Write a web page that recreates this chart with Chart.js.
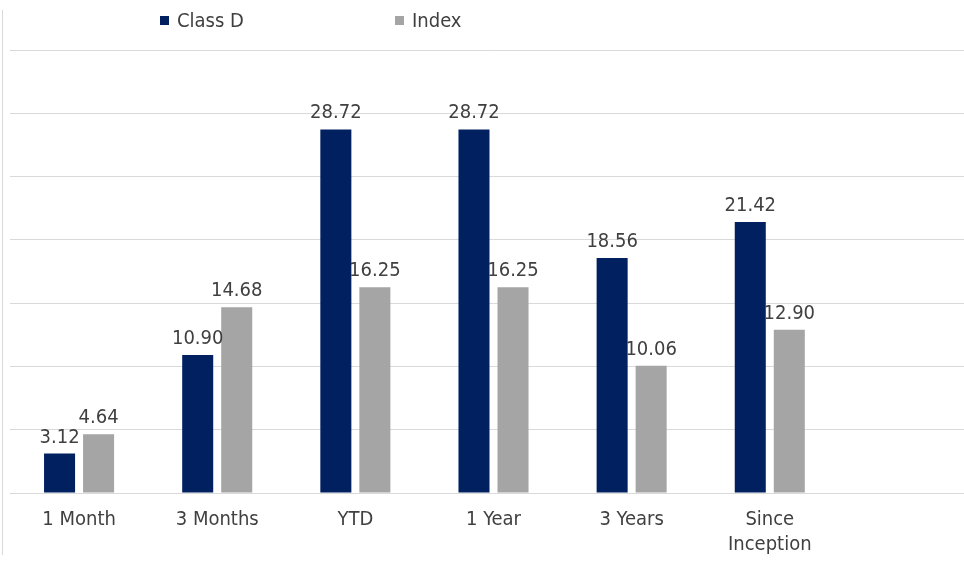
<!DOCTYPE html>
<html>
<head>
<meta charset="utf-8">
<script src="https://cdn.jsdelivr.net/npm/chart.js@4"></script>
<style>
  html, body { margin: 0; padding: 0; background: #fff; }
  #wrap { position: relative; width: 964px; height: 561px; overflow: hidden; }
  #box { position: absolute; left: 0; top: 0; width: 977px; height: 561px; }
  #frame { position: absolute; left: 2px; top: 10px; height: 545px; border-left: 1px solid #d9d9d9; }
  .leg { position: absolute; top: 8px; font: 20px "Liberation Sans Narrow", "DejaVu Sans Condensed", sans-serif; color: #404040; }
  .leg i { position: absolute; top: 8px; left: -17px; width: 9px; height: 9px; }
</style>
</head>
<body>
<div id="wrap">
  <div id="box"><canvas id="chart"></canvas></div>
  <div id="frame"></div>
  <div class="leg" style="left:177px"><i style="background:#002060"></i>Class D</div>
  <div class="leg" style="left:412px"><i style="background:#a5a5a5"></i>Index</div>
</div>
<script>
// --- Datos ---
const categories = ['1 Month', '3 Months', 'YTD', '1 Year', '3 Years', ['Since', 'Inception'], ''];
const classD = [3.12, 10.90, 28.72, 28.72, 18.56, 21.42, null];
const indexVals = [4.64, 14.68, 16.25, 16.25, 10.06, 12.90, null];
const yTicks = [0, 5, 10, 15, 20, 25, 30, 35];

const fontFamily = '"Liberation Sans Narrow", "DejaVu Sans Condensed", sans-serif';

// etiquetas de valor encima de cada barra
const valueLabels = {
  id: 'valueLabels',
  afterDatasetsDraw(chart) {
    const ctx = chart.ctx;
    ctx.save();
    ctx.font = '20px ' + fontFamily;
    ctx.fillStyle = '#404040';
    ctx.textAlign = 'center';
    ctx.textBaseline = 'alphabetic';
    chart.data.datasets.forEach((ds, i) => {
      chart.getDatasetMeta(i).data.forEach((bar, j) => {
        const v = ds.data[j];
        if (v == null) return;
        ctx.fillText(v.toFixed(2), bar.x, bar.y - 11);
      });
    });
    ctx.restore();
  }
};

new Chart(document.getElementById('chart'), {
  type: 'bar',
  data: {
    labels: categories,
    datasets: [
      { label: 'Class D', data: classD, backgroundColor: '#002060', categoryPercentage: 0.565, barPercentage: 0.795 },
      { label: 'Index', data: indexVals, backgroundColor: '#a5a5a5', categoryPercentage: 0.565, barPercentage: 0.795 }
    ]
  },
  options: {
    responsive: true,
    maintainAspectRatio: false,
    animation: false,
    layout: { padding: { left: 10, top: 50, right: 0, bottom: 0 } },
    plugins: {
      legend: { display: false },
      tooltip: { enabled: false }
    },
    scales: {
      x: {
        grid: { display: false },
        border: { display: false },
        ticks: { color: '#404040', font: { family: fontFamily, size: 20, lineHeight: 1.25 }, padding: 6, maxRotation: 0, autoSkip: false },
        afterFit: s => { s.height = 68; }
      },
      y: {
        min: 0,
        max: 35,
        afterBuildTicks: s => { s.ticks = yTicks.map(v => ({ value: v })); },
        grid: { color: '#d9d9d9', lineWidth: 1, drawTicks: false },
        border: { display: false },
        ticks: { display: false },
        afterFit: s => { s.width = 0; }
      }
    }
  },
  plugins: [valueLabels]
});
</script>
</body>
</html>
